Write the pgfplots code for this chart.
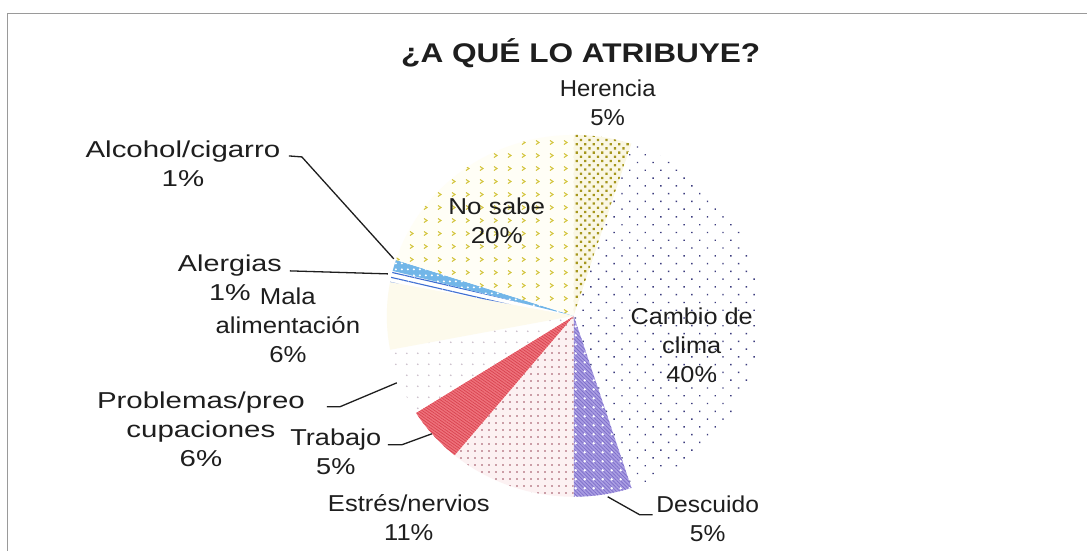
\documentclass[border=0pt]{standalone}
\usepackage{fontspec}
\setmainfont{Liberation Sans}
\usepackage{graphicx}
\usepackage{pgfplots}
\pgfplotsset{compat=1.18}
\usetikzlibrary{patterns,patterns.meta}

\definecolor{herBg}{HTML}{FAF7E4}
\definecolor{herDot}{HTML}{A5961C}
\definecolor{camDot}{HTML}{3C3C7E}
\definecolor{desBg}{HTML}{A99DE2}
\definecolor{desLn}{HTML}{7B6CC9}
\definecolor{estBg}{HTML}{FCF1F2}
\definecolor{estDot}{HTML}{9A4A5C}
\definecolor{traBg}{HTML}{EE727B}
\definecolor{traLn}{HTML}{D8424F}
\definecolor{proDot}{HTML}{C9BDC9}
\definecolor{malBg}{HTML}{FDFAEC}
\definecolor{alePat}{HTML}{3E6ED2}
\definecolor{alcBg}{HTML}{72B6E8}
\definecolor{noBg}{HTML}{FFFEF6}
\definecolor{noChev}{HTML}{D3C43C}
\definecolor{frame}{HTML}{9A9A9A}
\definecolor{ink}{HTML}{1E1E1E}

\pgfdeclarepattern{
  name=chevron, type=uncolored,
  bottom left={\pgfpoint{0pt}{0pt}},
  top right={\pgfpoint{14pt}{13pt}},
  tile size={\pgfpoint{14pt}{13pt}},
  code={
    \pgfsetlinewidth{1.1pt}
    \pgfpathmoveto{\pgfpoint{5pt}{8.5pt}}
    \pgfpathlineto{\pgfpoint{8pt}{6.5pt}}
    \pgfpathlineto{\pgfpoint{5pt}{4.5pt}}
    \pgfusepath{stroke}
  }
}

\tikzset{
  her/.style={preaction={fill=herBg}, pattern={Dots[distance=6pt, radius=1.6pt, angle=45]}, pattern color=herDot},
  cam/.style={preaction={fill=white}, pattern={Dots[distance=11pt, radius=1pt, angle=45]}, pattern color=camDot},
  des/.style={preaction={fill=desBg}, pattern={Lines[angle=-45, distance=2.6pt, line width=0.7pt]}, pattern color=desLn,
    postaction={pattern={Dots[distance=9pt, radius=1.3pt]}, pattern color=white}},
  est/.style={preaction={fill=estBg}, pattern={Dots[distance=6.5pt, radius=1pt]}, pattern color=estDot},
  tra/.style={preaction={fill=traBg}, pattern={Lines[angle=-35, distance=2.4pt, line width=0.7pt]}, pattern color=traLn},
  pro/.style={preaction={fill=white}, pattern={Dots[distance=11pt, radius=0.9pt]}, pattern color=proDot},
  mal/.style={fill=malBg},
  ale/.style={preaction={fill=white}, pattern={Lines[angle=-13, distance=5pt, line width=1.1pt]}, pattern color=alePat},
  alc/.style={preaction={fill=alcBg}, pattern={Dots[distance=6pt, radius=1.1pt]}, pattern color=white},
  nos/.style={preaction={fill=noBg}, pattern=chevron, pattern color=noChev},
  lead/.style={ink, line width=1.3pt},
}

% #1 cumulative start (%), #2 share (%), #3 style ; clockwise from 12 o'clock
\newcommand{\slice}[3]{%
  \addplot[draw=none, #3, domain={90-3.6*(#1+#2)}:{90-3.6*(#1)}, samples=61]
    ({574+187*cos(x)}, {316-181*sin(x)}) -- (axis cs:574,316) -- cycle;}

% #1 x, #2 baseline y, #3 horizontal stretch, #4 lines
\newcommand{\lab}[4]{%
  \node[anchor=base, inner sep=0pt, text=ink, font=\fontsize{23}{29}\selectfont]
    at (axis cs:#1,#2) {\scalebox{#3}[1]{\begin{tabular}[t]{@{}c@{}}#4\end{tabular}}};}

\begin{document}
\begin{tikzpicture}
\begin{axis}[
    width=1087pt, height=551pt, scale only axis,
    xmin=0, xmax=1087, ymin=0, ymax=551, y dir=reverse,
    hide axis, clip=false,
  ]
  \path[fill=white] (axis cs:0,0) rectangle (axis cs:1087,551);
  \draw[frame, line width=1pt] (axis cs:8,551) -- (axis cs:8,14) -- (axis cs:1087,14);

  % shares in percent
  \slice{0}{5}{her}    % Herencia
  \slice{5}{40}{cam}   % Cambio de clima
  \slice{45}{5}{des}   % Descuido
  \slice{50}{11}{est}  % Estres/nervios
  \slice{61}{5}{tra}   % Trabajo
  \slice{66}{6}{pro}   % Problemas/preocupaciones
  \slice{72}{6}{mal}   % Mala alimentacion
  \slice{78}{1}{ale}   % Alergias
  \slice{79}{1}{alc}   % Alcohol/cigarro
  \slice{80}{20}{nos}  % No sabe

  \addplot[lead] coordinates {(289,156) (302,157) (394,259)};
  \addplot[lead] coordinates {(290,271) (388,274)};
  \addplot[lead] coordinates {(327,407) (340,407) (397,383)};
  \addplot[lead] coordinates {(388,445) (402,445) (432,434)};
  \addplot[lead] coordinates {(608,497) (640,515) (653,515)};

  \node[anchor=base, inner sep=0pt, text=ink, font=\bfseries\fontsize{27}{32}\selectfont]
    at (axis cs:581,63) {\scalebox{1.17}[1]{¿A QUÉ LO ATRIBUYE?}};

  \lab{608}{97}{1.04}{Herencia\\5\%}
  \lab{183}{158}{1.28}{Alcohol/cigarro\\1\%}
  \lab{230}{272}{1.25}{Alergias\\1\%}
  \lab{288}{305}{1.12}{Mala\\alimentación\\6\%}
  \lab{201}{409}{1.28}{Problemas/preo\\cupaciones\\6\%}
  \lab{336}{446}{1.18}{Trabajo\\5\%}
  \lab{409}{512}{1.11}{Estrés/nervios\\11\%}
  \lab{708}{513}{1.07}{Descuido\\5\%}
  \lab{692}{325}{1.10}{Cambio de\\clima\\40\%}
  \lab{497}{215}{1.13}{No sabe\\20\%}
\end{axis}
\end{tikzpicture}
\end{document}
